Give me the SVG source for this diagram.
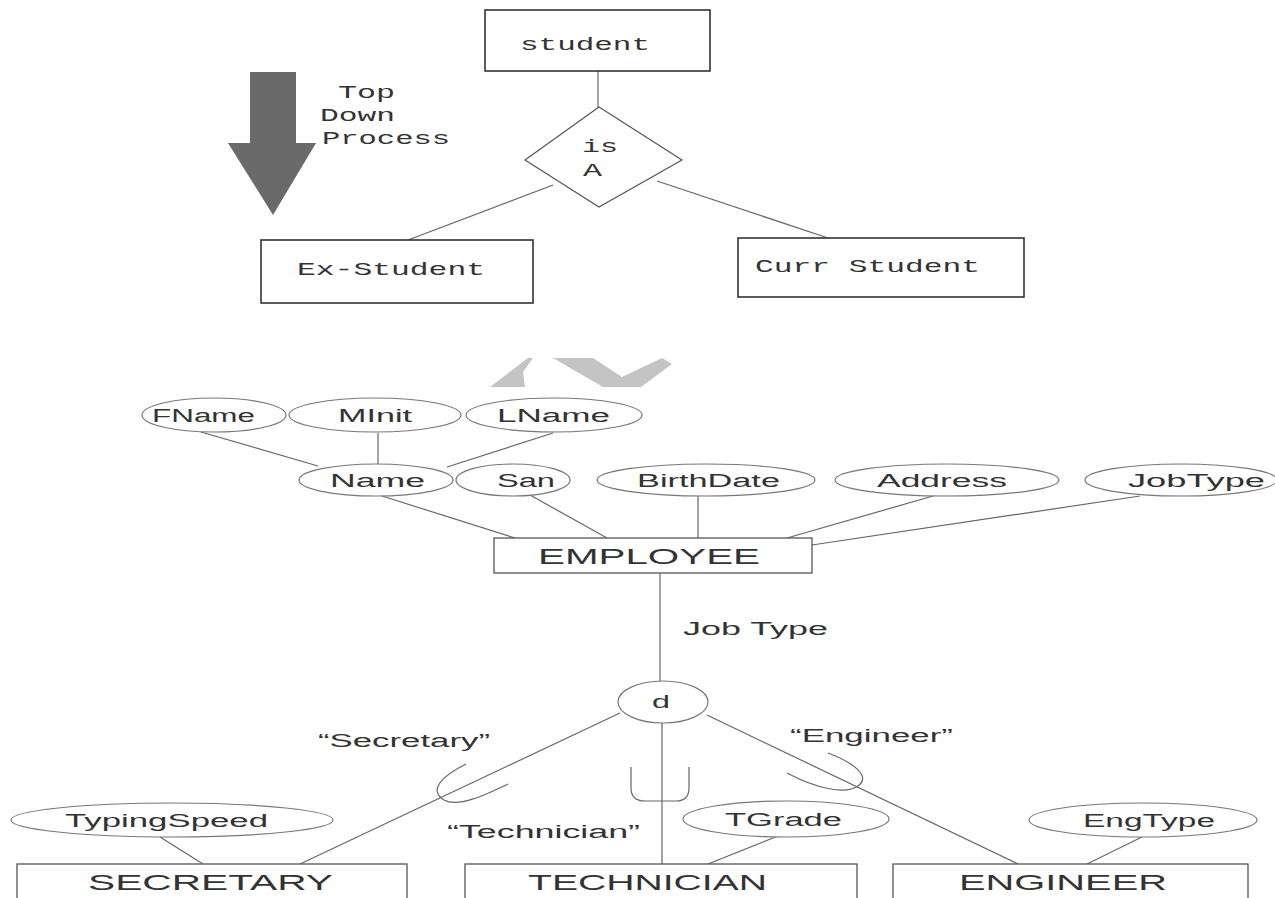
<svg xmlns="http://www.w3.org/2000/svg" width="1275" height="898" viewBox="0 0 1275 898">
<style>
.box{fill:#fff;stroke:#333;stroke-width:1.6}
.ebox{fill:#fff;stroke:#555;stroke-width:1.3}
.ell{fill:#fff;stroke:#777;stroke-width:1.2}
.ln{stroke:#666;stroke-width:1.2;fill:none}
.mono{font-family:"Liberation Mono","DejaVu Sans Mono",monospace;font-size:19px;fill:#333}
.sans{font-family:"Liberation Sans",Arial,sans-serif;font-size:18px;fill:#333}
.big{font-family:"Liberation Sans",Arial,sans-serif;font-size:22px;fill:#333}
</style>
<rect width="1275" height="898" fill="#fff"/>

<!-- watermark fragments -->
<g id="watermark" fill="#c4c4c4">
<polygon points="490,387 528,358 533,358 523,372 525,387"/>
<polygon points="553,358 593,358 622,377 662,358 672,364 641,387 603,387"/>
</g>

<!-- top-down arrow -->
<g id="topdown-arrow">
<polygon points="250,72 296,72 296,143 316,143 273,215 228,143 250,143" fill="#6a6a6a"/>
<text class="mono" x="338" y="98" textLength="57" lengthAdjust="spacingAndGlyphs">Top</text>
<text class="mono" x="320" y="121" textLength="75" lengthAdjust="spacingAndGlyphs">Down</text>
<text class="mono" x="322" y="144" textLength="128" lengthAdjust="spacingAndGlyphs">Process</text>
</g>

<g id="connectors">
<line class="ln" x1="598" y1="71" x2="598" y2="107"/>
<line class="ln" x1="553" y1="185" x2="408" y2="240"/>
<line class="ln" x1="657" y1="181" x2="828" y2="238"/>
<line class="ln" x1="201" y1="432" x2="318" y2="466"/>
<line class="ln" x1="378" y1="433" x2="378" y2="465"/>
<line class="ln" x1="553" y1="433" x2="447" y2="467"/>
<line class="ln" x1="382" y1="496" x2="515" y2="538"/>
<line class="ln" x1="530" y1="495" x2="607" y2="538"/>
<line class="ln" x1="698" y1="495" x2="698" y2="538"/>
<line class="ln" x1="933" y1="496" x2="787" y2="538"/>
<line class="ln" x1="1140" y1="496" x2="812" y2="545"/>
<line class="ln" x1="660" y1="573" x2="660" y2="681"/>
<line class="ln" x1="620" y1="713" x2="300" y2="864"/>
<line class="ln" x1="662" y1="723" x2="662" y2="864"/>
<line class="ln" x1="707" y1="715" x2="1018" y2="864"/>
<line class="ln" x1="160" y1="837" x2="203" y2="864"/>
<line class="ln" x1="778" y1="836" x2="708" y2="864"/>
<line class="ln" x1="1144" y1="836" x2="1087" y2="864"/>
<!-- subset symbols -->
<path class="ln" d="M466,764 C442,776 428,790 444,800 C458,808 485,795 508,784"/>
<path class="ln" d="M631,767 L631,788 Q631,801 645,801 L676,801 Q689,801 689,788 L689,767"/>
<path class="ln" d="M828,753 C852,762 872,776 858,786 C845,795 815,788 787,773"/>
</g>

<g id="student">
<rect class="box" x="485" y="10" width="225" height="61"/>
<text class="mono" x="520" y="50" textLength="130" lengthAdjust="spacingAndGlyphs">student</text>
</g>
<g id="isA">
<polygon points="599,107 682,160 599,207 525,160" fill="#fff" stroke="#555" stroke-width="1.2"/>
<text class="mono" x="582" y="152" textLength="36" lengthAdjust="spacingAndGlyphs">is</text>
<text class="mono" x="583" y="176" textLength="19" lengthAdjust="spacingAndGlyphs">A</text>
</g>
<g id="ex-student">
<rect class="box" x="261" y="240" width="272" height="63"/>
<text class="mono" x="297" y="275" textLength="188" lengthAdjust="spacingAndGlyphs">Ex-Student</text>
</g>
<g id="curr-student">
<rect class="box" x="738" y="238" width="286" height="59"/>
<text class="mono" x="755" y="272" textLength="225" lengthAdjust="spacingAndGlyphs">Curr Student</text>
</g>

<g id="fname"><ellipse class="ell" cx="214" cy="415" rx="72" ry="17"/>
<text class="sans" x="152" y="422" textLength="103" lengthAdjust="spacingAndGlyphs">FName</text></g>
<g id="minit"><ellipse class="ell" cx="375" cy="415" rx="86" ry="17"/>
<text class="sans" x="338" y="422" textLength="74" lengthAdjust="spacingAndGlyphs">MInit</text></g>
<g id="lname"><ellipse class="ell" cx="554" cy="415" rx="88" ry="17"/>
<text class="sans" x="497" y="422" textLength="113" lengthAdjust="spacingAndGlyphs">LName</text></g>

<g id="name"><ellipse class="ell" cx="376" cy="480" rx="77" ry="16"/>
<text class="sans" x="330" y="487" textLength="95" lengthAdjust="spacingAndGlyphs">Name</text></g>
<g id="san"><ellipse class="ell" cx="513" cy="480" rx="57" ry="16"/>
<text class="sans" x="497" y="487" textLength="58" lengthAdjust="spacingAndGlyphs">San</text></g>
<g id="birthdate"><ellipse class="ell" cx="706" cy="480" rx="109" ry="16"/>
<text class="sans" x="637" y="487" textLength="143" lengthAdjust="spacingAndGlyphs">BirthDate</text></g>
<g id="address"><ellipse class="ell" cx="947" cy="480" rx="112" ry="16"/>
<text class="sans" x="877" y="487" textLength="130" lengthAdjust="spacingAndGlyphs">Address</text></g>
<g id="jobtype"><ellipse class="ell" cx="1181" cy="480" rx="96" ry="16"/>
<text class="sans" x="1128" y="487" textLength="137" lengthAdjust="spacingAndGlyphs">JobType</text></g>

<g id="employee">
<rect class="ebox" x="494" y="538" width="318" height="35"/>
<text class="big" x="538" y="564" textLength="222" lengthAdjust="spacingAndGlyphs">EMPLOYEE</text>
</g>
<text class="sans" x="683" y="635" textLength="145" lengthAdjust="spacingAndGlyphs">Job Type</text>

<g id="d">
<ellipse class="ell" cx="663" cy="702" rx="45" ry="21"/>
<text class="sans" x="652" y="708" textLength="18" lengthAdjust="spacingAndGlyphs">d</text>
</g>
<text class="sans" x="318" y="747" textLength="172" lengthAdjust="spacingAndGlyphs">“Secretary”</text>
<text class="sans" x="790" y="742" textLength="163" lengthAdjust="spacingAndGlyphs">“Engineer”</text>
<text class="sans" x="447" y="838" textLength="193" lengthAdjust="spacingAndGlyphs">“Technician”</text>

<g id="typingspeed"><ellipse class="ell" cx="172" cy="820" rx="161" ry="17"/>
<text class="sans" x="65" y="827" textLength="203" lengthAdjust="spacingAndGlyphs">TypingSpeed</text></g>
<g id="tgrade"><ellipse class="ell" cx="786" cy="819" rx="103" ry="18"/>
<text class="sans" x="725" y="826" textLength="117" lengthAdjust="spacingAndGlyphs">TGrade</text></g>
<g id="engtype"><ellipse class="ell" cx="1143" cy="820" rx="114" ry="17"/>
<text class="sans" x="1083" y="827" textLength="132" lengthAdjust="spacingAndGlyphs">EngType</text></g>

<g id="secretary">
<rect class="ebox" x="17" y="864" width="390" height="40"/>
<text class="big" x="88" y="890" textLength="245" lengthAdjust="spacingAndGlyphs">SECRETARY</text>
</g>
<g id="technician">
<rect class="ebox" x="465" y="864" width="392" height="40"/>
<text class="big" x="528" y="890" textLength="239" lengthAdjust="spacingAndGlyphs">TECHNICIAN</text>
</g>
<g id="engineer">
<rect class="ebox" x="893" y="864" width="355" height="40"/>
<text class="big" x="959" y="890" textLength="208" lengthAdjust="spacingAndGlyphs">ENGINEER</text>
</g>
</svg>
